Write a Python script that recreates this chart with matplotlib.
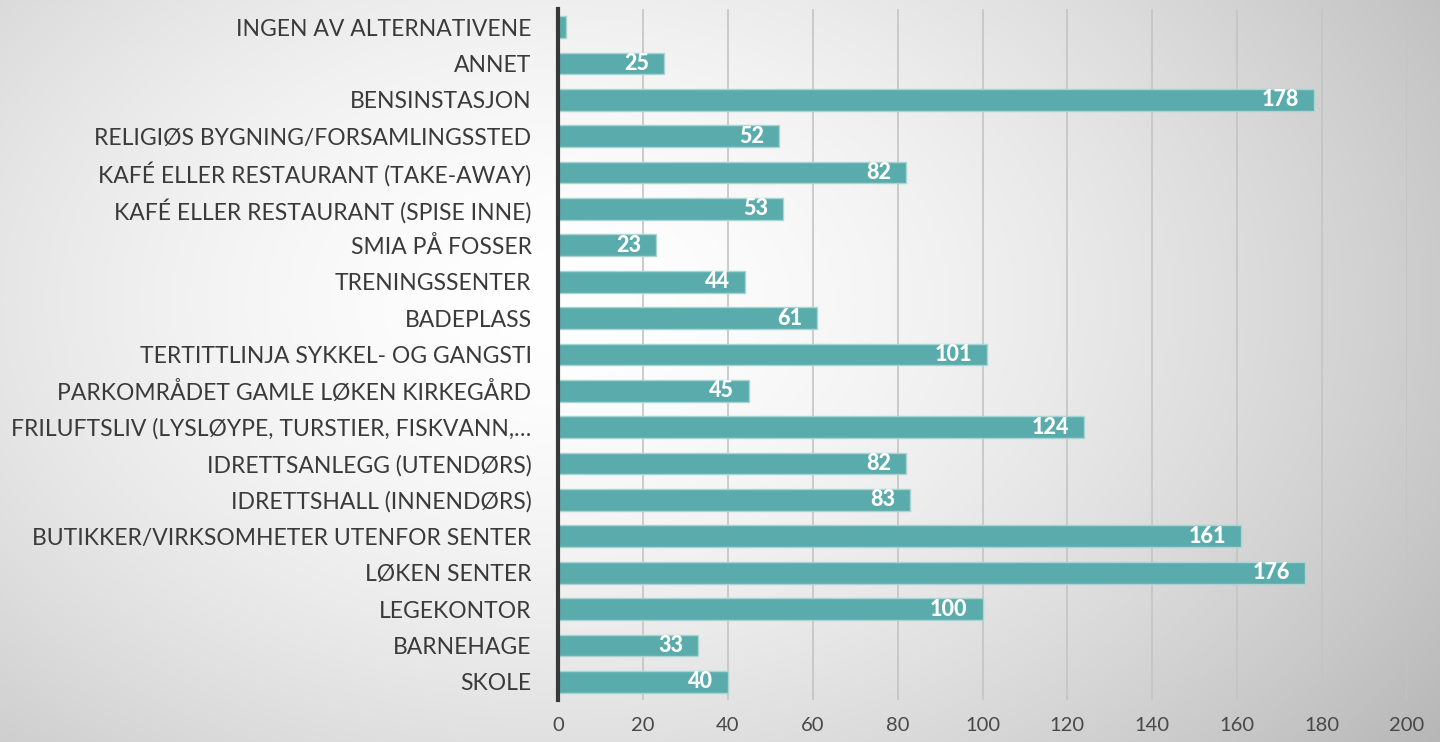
import numpy as np
import matplotlib.pyplot as plt

categories = [
    "SKOLE",
    "BARNEHAGE",
    "LEGEKONTOR",
    "LØKEN SENTER",
    "BUTIKKER/VIRKSOMHETER UTENFOR SENTER",
    "IDRETTSHALL (INNENDØRS)",
    "IDRETTSANLEGG (UTENDØRS)",
    "FRILUFTSLIV (LYSLØYPE, TURSTIER, FISKVANN,…",
    "PARKOMRÅDET GAMLE LØKEN KIRKEGÅRD",
    "TERTITTLINJA SYKKEL- OG GANGSTI",
    "BADEPLASS",
    "TRENINGSSENTER",
    "SMIA PÅ FOSSER",
    "KAFÉ ELLER RESTAURANT (SPISE INNE)",
    "KAFÉ ELLER RESTAURANT (TAKE-AWAY)",
    "RELIGIØS BYGNING/FORSAMLINGSSTED",
    "BENSINSTASJON",
    "ANNET",
    "INGEN AV ALTERNATIVENE",
]
values = [40, 33, 100, 176, 161, 83, 82, 124, 45, 101, 61, 44, 23, 53, 82, 52, 178, 25, 2]
x_ticks = [0, 20, 40, 60, 80, 100, 120, 140, 160, 180, 200]

plt.rcParams['font.family'] = ['Lato', 'DejaVu Sans']

fig = plt.figure(figsize=(14.4, 7.42), dpi=100)

# radial gradient background
bg = fig.add_axes([0, 0, 1, 1], zorder=0)
h, w = 742, 1440
yy, xx = np.mgrid[0:h, 0:w]
r = np.sqrt(((xx - 560) / 1000.0) ** 2 + ((yy - 300) / 700.0) ** 2)
shade = 1.0 - 0.25 * np.clip(r, 0, 1.2) ** 1.6
bg.imshow(np.dstack([shade] * 3), extent=[0, 1, 0, 1], aspect='auto')
bg.axis('off')

ax = fig.add_axes([0.3875, 0.0566, 0.5896, 0.9314], zorder=1)
ax.patch.set_alpha(0)

y = np.arange(len(categories))
ax.barh(y, values, height=0.6, color='#5AABAB', edgecolor='#A8D4D4',
        linewidth=1, zorder=3)

for yi, v in zip(y, values):
    if v >= 10:
        ax.text(v - 3.5, yi, str(v), ha='right', va='center', color='white',
                fontsize=15.5, fontweight='black', zorder=4)

ax.set_xlim(0, 200)
ax.set_ylim(-0.5, len(categories) - 0.5)
ax.set_yticks(y)
ax.set_yticklabels(categories, fontsize=16.5, color='#3A3A3A')
ax.set_xticks(x_ticks)
ax.set_xticklabels([str(t) for t in x_ticks], fontsize=14.5, color='#484848')
ax.tick_params(axis='y', length=0, pad=19)
ax.tick_params(axis='x', length=0, pad=12)

ax.grid(axis='x', color='#C4C4C4', linewidth=1.2, zorder=0)
for s in ['top', 'right', 'bottom']:
    ax.spines[s].set_visible(False)
ax.spines['left'].set_color('#383838')
ax.spines['left'].set_linewidth(3)
ax.spines['left'].set_zorder(5)

fig.savefig('out.png', dpi=100)
